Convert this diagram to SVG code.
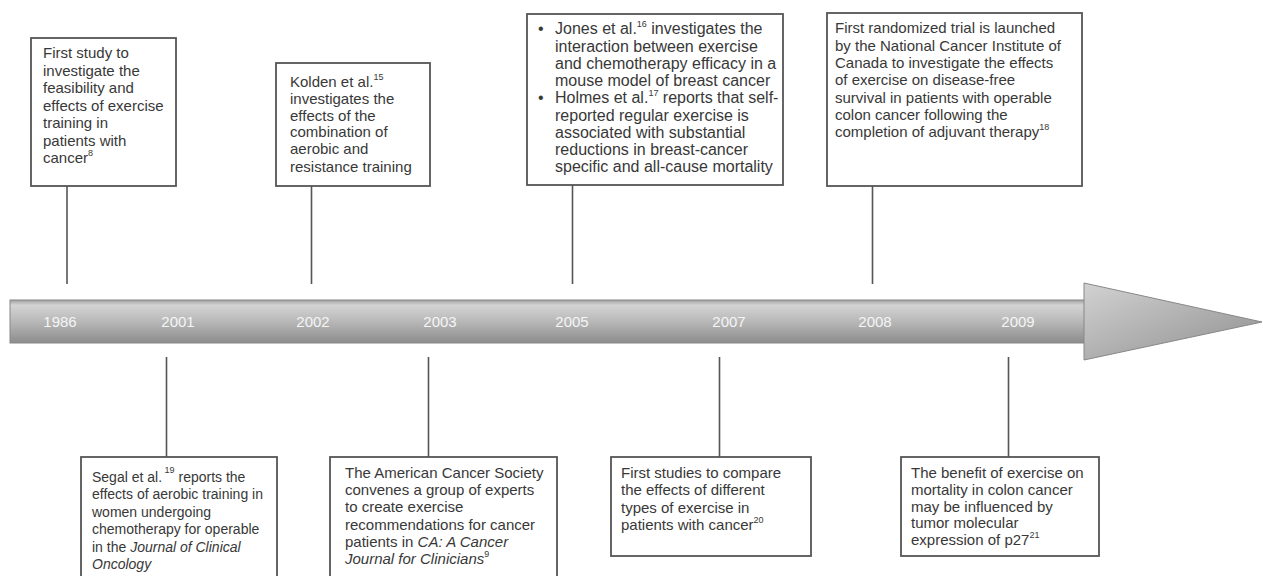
<svg xmlns="http://www.w3.org/2000/svg" width="1263" height="576" viewBox="0 0 1263 576">
<defs>
<linearGradient id="shaft" x1="0" y1="0" x2="0" y2="1">
<stop offset="0" stop-color="#a0a0a0"/>
<stop offset="0.12" stop-color="#d4d4d4"/>
<stop offset="0.5" stop-color="#b8b8b8"/>
<stop offset="1" stop-color="#8c8c8c"/>
</linearGradient>
<linearGradient id="head" x1="0" y1="0" x2="1" y2="1">
<stop offset="0" stop-color="#d2d2d2"/>
<stop offset="1" stop-color="#8e8e8e"/>
</linearGradient>
<style>
.box{fill:#fff;stroke:#555;stroke-width:1.8}
.con{stroke:#555;stroke-width:1.6;fill:none}
.t{font-family:"Liberation Sans",Arial,sans-serif;font-size:15px;fill:#383838}
.sup{font-size:9px}
.yr{font-family:"Liberation Sans",Arial,sans-serif;font-size:15px;fill:#f5f5f5;text-anchor:middle}
</style>
</defs>
<rect width="1263" height="576" fill="#fff"/>

<g id="timeline">
<rect x="10" y="300" width="1076" height="43" fill="url(#shaft)" stroke="#888" stroke-width="1"/>
<path d="M1084,283 L1262,322 L1084,360 Z" fill="url(#head)" stroke="#888" stroke-width="1"/>
<text class="yr" x="60" y="327">1986</text>
<text class="yr" x="178" y="327">2001</text>
<text class="yr" x="313" y="327">2002</text>
<text class="yr" x="440" y="327">2003</text>
<text class="yr" x="572" y="327">2005</text>
<text class="yr" x="729" y="327">2007</text>
<text class="yr" x="875" y="327">2008</text>
<text class="yr" x="1018" y="327">2009</text>
</g>

<g id="connectors">
<line class="con" x1="67" y1="186" x2="67" y2="284"/>
<line class="con" x1="311.5" y1="186" x2="311.5" y2="284"/>
<line class="con" x1="572.5" y1="185" x2="572.5" y2="284"/>
<line class="con" x1="872.5" y1="186" x2="872.5" y2="284"/>
<line class="con" x1="166.5" y1="357" x2="166.5" y2="457"/>
<line class="con" x1="428.5" y1="357" x2="428.5" y2="457"/>
<line class="con" x1="719.5" y1="357" x2="719.5" y2="457"/>
<line class="con" x1="1008.5" y1="357" x2="1008.5" y2="457"/>
</g>

<g id="n1986">
<rect class="box" x="31" y="38" width="145" height="148"/>
<text class="t">
<tspan x="43" y="58">First study to</tspan>
<tspan x="43" y="75.5">investigate the</tspan>
<tspan x="43" y="93">feasibility and</tspan>
<tspan x="43" y="110.5">effects of exercise</tspan>
<tspan x="43" y="128">training in</tspan>
<tspan x="43" y="145.5">patients with</tspan>
<tspan x="43" y="163">cancer<tspan class="sup" dy="-7">8</tspan></tspan>
</text>
</g>

<g id="n2002">
<rect class="box" x="276" y="63" width="154" height="123"/>
<text class="t">
<tspan x="290" y="86.5">Kolden et al.<tspan class="sup" dy="-7">15</tspan></tspan>
<tspan x="290" y="103.5">investigates the</tspan>
<tspan x="290" y="120.5">effects of the</tspan>
<tspan x="290" y="137">combination of</tspan>
<tspan x="290" y="154">aerobic and</tspan>
<tspan x="290" y="171.5">resistance training</tspan>
</text>
</g>

<g id="n2005">
<rect class="box" x="527" y="14" width="256" height="171"/>
<text class="t" style="font-size:16px">
<tspan x="538" y="34">•</tspan>
<tspan x="555" y="34">Jones et al.<tspan class="sup" dy="-7">16</tspan><tspan dy="7"> investigates the</tspan></tspan>
<tspan x="555" y="51.5">interaction between exercise</tspan>
<tspan x="555" y="68.5">and chemotherapy efficacy in a</tspan>
<tspan x="555" y="86">mouse model of breast cancer</tspan>
<tspan x="538" y="103">•</tspan>
<tspan x="555" y="103">Holmes et al.<tspan class="sup" dy="-7">17</tspan><tspan dy="7"> reports that self-</tspan></tspan>
<tspan x="555" y="120.5">reported regular exercise is</tspan>
<tspan x="555" y="138">associated with substantial</tspan>
<tspan x="555" y="155">reductions in breast-cancer</tspan>
<tspan x="555" y="172">specific and all-cause mortality</tspan>
</text>
</g>

<g id="n2008">
<rect class="box" x="827" y="13" width="255" height="173"/>
<text class="t">
<tspan x="835" y="33">First randomized trial is launched</tspan>
<tspan x="835" y="50.5">by the National Cancer Institute of</tspan>
<tspan x="835" y="68">Canada to investigate the effects</tspan>
<tspan x="835" y="85">of exercise on disease-free</tspan>
<tspan x="835" y="102.5">survival in patients with operable</tspan>
<tspan x="835" y="120">colon cancer following the</tspan>
<tspan x="835" y="137">completion of adjuvant therapy<tspan class="sup" dy="-7">18</tspan></tspan>
</text>
</g>

<g id="n2001">
<rect class="box" x="81" y="457" width="196" height="135"/>
<text class="t" style="font-size:14px">
<tspan x="92" y="481.5">Segal et al.<tspan class="sup" dy="-9"> 19</tspan><tspan dy="9"> reports the</tspan></tspan>
<tspan x="92" y="499">effects of aerobic training in</tspan>
<tspan x="92" y="516.5">women undergoing</tspan>
<tspan x="92" y="534">chemotherapy for operable</tspan>
<tspan x="92" y="551.5">in the <tspan font-style="italic">Journal of Clinical</tspan></tspan>
<tspan x="92" y="569" font-style="italic">Oncology</tspan>
</text>
</g>

<g id="n2003">
<rect class="box" x="330" y="457" width="227" height="135"/>
<text class="t">
<tspan x="345" y="478">The American Cancer Society</tspan>
<tspan x="345" y="495">convenes a group of experts</tspan>
<tspan x="345" y="512">to create exercise</tspan>
<tspan x="345" y="529.5">recommendations for cancer</tspan>
<tspan x="345" y="546.5">patients in <tspan font-style="italic">CA: A Cancer</tspan></tspan>
<tspan x="345" y="563.5"><tspan font-style="italic">Journal for Clinicians</tspan><tspan class="sup" dy="-7">9</tspan></tspan>
</text>
</g>

<g id="n2007">
<rect class="box" x="611" y="457" width="200" height="99"/>
<text class="t">
<tspan x="621" y="478">First studies to compare</tspan>
<tspan x="621" y="495">the effects of different</tspan>
<tspan x="621" y="513">types of exercise in</tspan>
<tspan x="621" y="530">patients with cancer<tspan class="sup" dy="-7">20</tspan></tspan>
</text>
</g>

<g id="n2009">
<rect class="box" x="901" y="457" width="198" height="99"/>
<text class="t">
<tspan x="911" y="478">The benefit of exercise on</tspan>
<tspan x="911" y="494.5">mortality in colon cancer</tspan>
<tspan x="911" y="511.5">may be influenced by</tspan>
<tspan x="911" y="528">tumor molecular</tspan>
<tspan x="911" y="545">expression of p27<tspan class="sup" dy="-7">21</tspan></tspan>
</text>
</g>
</svg>
